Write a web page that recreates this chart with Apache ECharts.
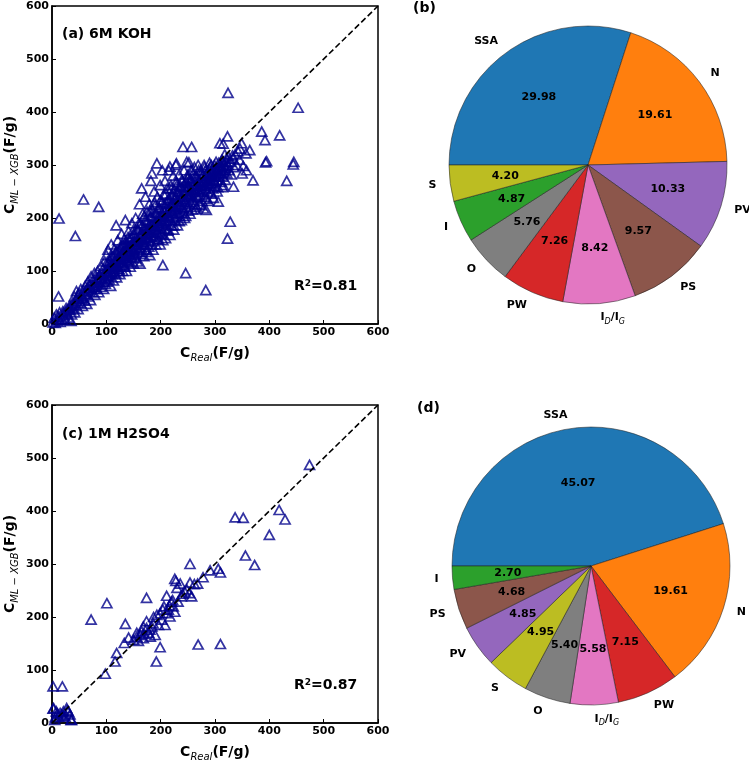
<!DOCTYPE html>
<html><head><meta charset="utf-8">
<script src="https://cdn.jsdelivr.net/npm/echarts@6/dist/echarts.min.js"></script>
<style>html,body{margin:0;padding:0;background:#fff}#c{width:749px;height:761px}</style>
</head><body><div id="c"></div>
<script>
// ---------- data ----------
const axisTicks = [0, 100, 200, 300, 400, 500, 600];
const diagonal = [[0, 0], [600, 600]];

const pieNamesB = ['SSA', 'N', 'PV', 'PS', 'ID/IG', 'PW', 'O', 'I', 'S'];
const pieValuesB = [29.98, 19.61, 10.33, 9.57, 8.42, 7.26, 5.76, 4.87, 4.20];
const pieNamesD = ['SSA', 'N', 'PW', 'ID/IG', 'O', 'S', 'PV', 'PS', 'I'];
const pieValuesD = [45.07, 19.61, 7.15, 5.58, 5.40, 4.95, 4.85, 4.68, 2.70];

const kohBand = [
[2,3],[4,12],[6,2],[8,18],[10,6],[12,14],[14,22],[15,4],[18,10],[20,24],[22,16],[24,8],[26,30],[28,20],[30,12],[32,34],[34,26],[35,6],[36,18],[38,40],[40,30],
[41,52],[42,22],[44,36],[45,62],[46,48],[48,28],[50,58],[52,40],[53,66],[55,50],[56,34],[58,62],[60,44],[61,72],[62,56],[64,38],[65,68],
[66,80],[67,52],[68,64],[70,74],[71,45],[72,90],[74,60],[75,82],[76,70],[78,96],[79,55],[80,78],[81,88],[82,66],[84,100],[85,74],[86,60],[87,92],[88,84],[90,110],[90,70],[92,96],[93,80],[94,104],[95,66],[96,88],[97,118],[98,76],[99,100],[100,92],[100,130],
[101,80],[102,110],[103,140],[104,98],[105,84],[106,120],[107,104],[108,72],[109,150],[110,114],[111,94],[112,128],[113,82],[114,108],[115,142],[116,120],[117,96],[118,186],[118,134],[119,88],[120,112],[121,158],[122,124],[123,104],[124,140],[125,94],[126,130],[127,116],[128,170],[129,148],[130,100],[131,136],[132,122],[133,160],[134,110],[135,196],[135,144],[136,128],[137,100],[138,154],[139,138],[140,118],[141,175],[142,148],[143,132],[144,108],[145,162],[146,142],[147,190],[148,126],[149,155],[150,114],[150,138],
[151,170],[152,150],[153,130],[154,200],[155,160],[156,144],[157,118],[158,178],[159,156],[160,136],[161,226],[161,166],[162,114],[163,190],[164,150],[165,256],[165,172],[166,140],[167,208],[168,160],[169,128],[170,184],[171,150],[172,240],[172,196],[173,170],[174,136],[175,212],[176,162],[177,180],[178,146],[179,226],[180,190],[180,130],[181,168],[182,270],[182,204],[183,156],[184,284],[184,216],[185,178],[186,140],[187,196],[188,250],[188,164],[189,230],[190,186],[191,150],[192,210],[193,174],[194,240],[195,196],[196,160],[197,220],[198,184],[199,262],[199,150],[200,204],
[201,170],[202,230],[203,290],[203,192],[204,158],[205,216],[206,244],[207,180],[208,270],[208,202],[209,162],[210,228],[211,194],[212,256],[213,176],[214,214],[215,290],[215,238],[216,200],[217,168],[218,222],[219,262],[220,186],[221,244],[222,210],[223,280],[223,230],[224,178],[225,254],[226,216],[227,196],[228,300],[228,240],[229,268],[230,208],[231,186],[232,250],[233,226],[234,282],[235,204],[236,260],[237,236],[238,196],[239,272],[240,220],[241,246],[242,210],[243,290],[244,258],[245,230],[246,204],[247,270],[248,306],[248,242],[249,220],[250,258],[250,282],
[251,214],[253,244],[254,268],[255,230],[256,290],[257,254],[258,216],[259,276],[260,238],[261,262],[262,296],[263,226],[264,250],[265,280],[266,221],[267,264],[268,240],[269,300],[270,254],[271,226],[272,272],[273,244],[274,290],[275,262],[276,232],[277,280],[278,252],[279,218],[280,270],[281,296],[282,240],[283,262],[284,215],[285,284],[286,250],[287,272],[288,232],[289,292],[290,260],[291,278],[292,248],[293,300],[294,266],[295,284],[296,256],[297,238],[298,294],[299,270],[300,282],
[301,260],[302,306],[303,290],[304,272],[305,258],[307,296],[308,280],[310,300],[311,268],[312,290],[313,310],[314,278],[315,262],[316,300],[317,286],[318,320],[319,272],[320,298],[321,312],[322,284],[324,300],[325,316],[326,290],[328,306],[330,282],[332,318],[335,296],[337,320],[340,300],[342,326],[345,310],[352,298],[358,290],[350,284]
];
const kohCore = [
[20,18],[25,23],[30,28],[35,33],[40,37],[45,43],[50,47],[55,53],[60,57],[65,63],[70,67],[75,73],[80,77],[85,83],[90,87],[95,93],[48,54],[58,48],[68,74],[78,70],[88,94],[98,86],
[100,97],[104,106],[108,100],[112,114],[116,108],[120,122],[124,116],[128,130],[132,125],[136,138],[140,132],[144,147],[148,140],[152,156],[156,150],[160,162],[164,155],[168,171],[172,164],[176,178],[180,172],[184,186],[188,178],[192,195],[196,186],[200,198],[204,190],[208,212],[212,204],[216,218],[220,210],[224,224],[228,218],[232,232],[236,224],[240,240],[244,232],[248,250],[252,240],[256,256],[260,248],[264,262],[268,254],[272,268],[276,260],[280,276],[284,266],[288,280],[292,272],[296,288],[300,278],[304,292],[308,284],[312,298],[316,290],[320,306],
[102,118],[110,128],[118,136],[126,144],[134,152],[142,160],[150,170],[158,178],[166,186],[174,194],[182,202],[190,210],[198,218],[206,226],[214,234],[222,242],[230,250],[238,258],[246,266],[254,274],
[106,90],[114,98],[122,104],[130,112],[138,120],[146,126],[154,134],[162,142],[170,150],[178,158],[186,166],[194,172],[202,180],[210,188],[218,196],[226,202],[234,210],[242,218],[250,226],[258,234],[266,242],[274,250],[282,256],[290,264],[298,270]
];
const kohCore2 = [
[103,92],[107,112],[111,104],[115,118],[119,110],[123,128],[127,120],[131,134],[135,124],[139,146],[143,136],[147,152],[151,144],[155,164],[159,150],[163,170],[167,160],[171,180],[175,168],[179,186],[183,176],[187,192],[191,182],[195,202],[199,190],[203,208],[207,196],[211,220],[215,206],[219,228],[223,214],[227,236],[231,222],[235,244],[239,230],[243,252],[247,236],[251,260],[255,246],[259,268],[263,254],[267,276],[271,260],[275,284],[279,266],[283,290],[287,272],[291,296],[295,278],[299,300],[303,282],[307,304],[311,290],[315,306],[319,294],
[120,140],[130,150],[140,164],[150,178],[160,190],[170,204],[180,214],[190,224],[200,234],[210,246],[220,256],[230,262],[240,270],[250,276],[260,284],[270,290],[280,300],[290,304],
[124,100],[134,108],[144,116],[154,124],[164,132],[174,140],[184,150],[194,160],[204,168],[214,178],[224,186],[234,194],[244,200],[254,208],[264,216],[274,224],[284,236],[294,246],[304,250],[314,258]
];
const kohOutliers = [
[324,436],[453,408],[386,363],[392,347],[419,356],[444,301],[432,270],[393,305],[370,271],[323,354],[309,341],[315,340],[334,259],[306,231],[328,193],[323,161],[283,64],[246,96],[204,111],[58,235],[86,221],[13,199],[43,166],[12,52],[241,334],[257,334],[193,303],[229,303],[252,305],[217,297],[349,341],[346,331],[364,328],[357,322],[333,312],[395,307],[445,306]
];
const h2so4Points = [
[474,487],[337,388],[352,387],[418,402],[429,384],[400,355],[356,316],[373,298],[254,300],[291,288],[306,291],[310,284],[278,275],[268,263],[226,272],[228,268],[236,263],[254,265],[253,245],[257,239],[244,248],[230,255],[211,240],[174,236],[101,226],[72,195],[135,187],[119,132],[116,116],[98,93],[269,148],[310,149],[199,143],[192,116],[133,151],[141,161],[156,170],[159,155],
[168,182],[174,192],[184,182],[187,200],[193,204],[199,207],[202,195],[204,214],[211,207],[214,214],[223,220],[220,229],[232,229],[238,239],[226,210],[217,201],[208,185],[196,185],[178,170],[165,173],[156,163],[168,160],[181,163],[190,166],[174,179],[150,157],[222,232],[216,222],[206,220],[186,188],[180,176],[170,168],[162,166],[240,244],[248,252],[262,262],
[2,69],[19,69],[2,27],[8,22],[15,19],[21,22],[27,28],[30,22],[33,16],[36,6],[5,6],[12,12],[21,14],[24,12],[3,28],[6,11],[35,6],[28,24],[10,18],[18,16]
];

// ---------- helpers ----------
const FONT = 'DejaVu Sans';
const pieColors = {SSA:'#1f77b4', N:'#ff7f0e', I:'#2ca02c', PW:'#d62728', PV:'#9467bd', PS:'#8c564b', 'ID/IG':'#e377c2', O:'#7f7f7f', S:'#bcbd22'};
const mkPieData = (names, vals) => names.map((n, i) => ({name: n, value: vals[i], itemStyle: {color: pieColors[n]}}));
const nameFmt = p => p.name === 'ID/IG' ? '{m|I}{s|D}{m|/I}{s|G}' : '{m|' + p.name + '}';
const pieRich = {
  m: {fontFamily: FONT, fontSize: 11, fontWeight: 'bold', color: '#000', lineHeight: 16, verticalAlign: 'middle'},
  s: {fontFamily: FONT, fontSize: 8, fontStyle: 'italic', color: '#000', lineHeight: 16, verticalAlign: 'bottom'}
};
const R = 139;
function pieSeries(center, names, vals) {
  return [{
    type: 'pie', center: center, radius: [0, R], startAngle: 180, clockwise: true,
    avoidLabelOverlap: false, silent: true, animation: false,
    data: mkPieData(names, vals),
    itemStyle: {borderColor: 'rgba(30,30,30,0.75)', borderWidth: 0.7},
    label: {show: true, position: 'outside', formatter: nameFmt, rich: pieRich, distanceToLabelLine: 0},
    labelLine: {show: false, length: 14, length2: 0},
    emphasis: {disabled: true}
  }, {
    type: 'pie', center: center, radius: [0, 161], startAngle: 180, clockwise: true,
    avoidLabelOverlap: false, silent: true, animation: false, z: 5,
    data: names.map((n, i) => ({name: n, value: vals[i]})),
    itemStyle: {color: 'rgba(0,0,0,0)', borderWidth: 0},
    label: {show: true, position: 'inside', formatter: p => p.value.toFixed(2),
      fontFamily: FONT, fontSize: 11, fontWeight: 'bold', color: '#000'},
    labelLine: {show: false},
    emphasis: {disabled: true}
  }];
}
const axisRich = {
  c: {fontFamily: FONT, fontSize: 14, fontWeight: 'bold', color: '#000', lineHeight: 20, verticalAlign: 'middle'},
  s: {fontFamily: FONT, fontSize: 10, fontStyle: 'italic', color: '#000', lineHeight: 20, verticalAlign: 'bottom'}
};
function xAx(gi) {
  return {gridIndex: gi, type: 'value', min: axisTicks[0], max: axisTicks[axisTicks.length - 1], interval: axisTicks[1] - axisTicks[0],
    name: '{c|C}{s|Real}{c|(F/g)}', nameLocation: 'middle', nameGap: 19, nameMoveOverlap: false,
    nameTextStyle: {rich: axisRich},
    axisLine: {show: true, onZero: false, lineStyle: {color: '#000', width: 1.5}},
    axisTick: {show: true, inside: true, length: 4, lineStyle: {color: '#000', width: 1}},
    axisLabel: {show: true, margin: 3, showMinLabel: true, showMaxLabel: true, hideOverlap: false,
      fontFamily: FONT, fontSize: 11, fontWeight: 'bold', color: '#000'},
    splitLine: {show: false}};
}
function yAx(gi) {
  return {gridIndex: gi, type: 'value', min: axisTicks[0], max: axisTicks[axisTicks.length - 1], interval: axisTicks[1] - axisTicks[0],
    name: '{c|C}{s|ML − XGB}{c|(F/g)}', nameLocation: 'middle', nameGap: 32, nameRotate: 90, nameMoveOverlap: false,
    nameTextStyle: {rich: axisRich},
    axisLine: {show: true, onZero: false, lineStyle: {color: '#000', width: 1.5}},
    axisTick: {show: true, inside: true, length: 4, lineStyle: {color: '#000', width: 1}},
    axisLabel: {show: true, margin: 3, showMinLabel: true, showMaxLabel: true, hideOverlap: false,
      fontFamily: FONT, fontSize: 11, fontWeight: 'bold', color: '#000'},
    splitLine: {show: false}};
}
const scatterStyle = {color: 'rgba(0,0,0,0)', borderColor: '#00008B', borderWidth: 1.7};
function scatter(gi, data) {
  return {type: 'scatter', xAxisIndex: gi, yAxisIndex: gi, data: data, symbol: 'triangle', symbolSize: [10, 9],
    itemStyle: scatterStyle, silent: true, animation: false, z: 2};
}
function diag(gi) {
  return {type: 'line', xAxisIndex: gi, yAxisIndex: gi, data: diagonal, symbol: 'none', silent: true, animation: false, z: 6,
    lineStyle: {color: '#000', width: 1.6, type: [6, 3]}};
}
const titleStyle = {fontFamily: FONT, fontSize: 14, fontWeight: 'bold', color: '#000',
  rich: {sup: {fontFamily: FONT, fontSize: 9, color: '#000', verticalAlign: 'top', lineHeight: 14, padding: [0, 0, 6, 0]}}};
const mkTitle = (text, left, top) => ({text: text, left: left, top: top, padding: 0, textStyle: titleStyle});

const chart = echarts.init(document.getElementById('c'), null, {renderer: 'canvas'});
chart.setOption({
  backgroundColor: '#fff',
  animation: false,
  title: [
    mkTitle('(a) 6M KOH', 62, 27),
    mkTitle('R{sup|2}=0.81', 294, 279),
    mkTitle('(b)', 413, 1),
    mkTitle('(c) 1M H2SO4', 62, 427),
    mkTitle('R{sup|2}=0.87', 294, 678),
    mkTitle('(d)', 417, 401)
  ],
  grid: [
    {left: 52, top: 6, width: 326, height: 318, show: true, borderColor: '#000', borderWidth: 1.5, backgroundColor: 'rgba(0,0,0,0)', outerBoundsMode: 'none', containLabel: false},
    {left: 52, top: 405, width: 326, height: 318, show: true, borderColor: '#000', borderWidth: 1.5, backgroundColor: 'rgba(0,0,0,0)', outerBoundsMode: 'none', containLabel: false}
  ],
  xAxis: [xAx(0), xAx(1)],
  yAxis: [yAx(0), yAx(1)],
  series: [
    scatter(0, kohBand), scatter(0, kohCore), scatter(0, kohCore2), scatter(0, kohOutliers), diag(0),
    scatter(1, h2so4Points), diag(1),
    ...pieSeries([588, 165], pieNamesB, pieValuesB),
    ...pieSeries([591, 566], pieNamesD, pieValuesD)
  ]
});
</script></body></html>
